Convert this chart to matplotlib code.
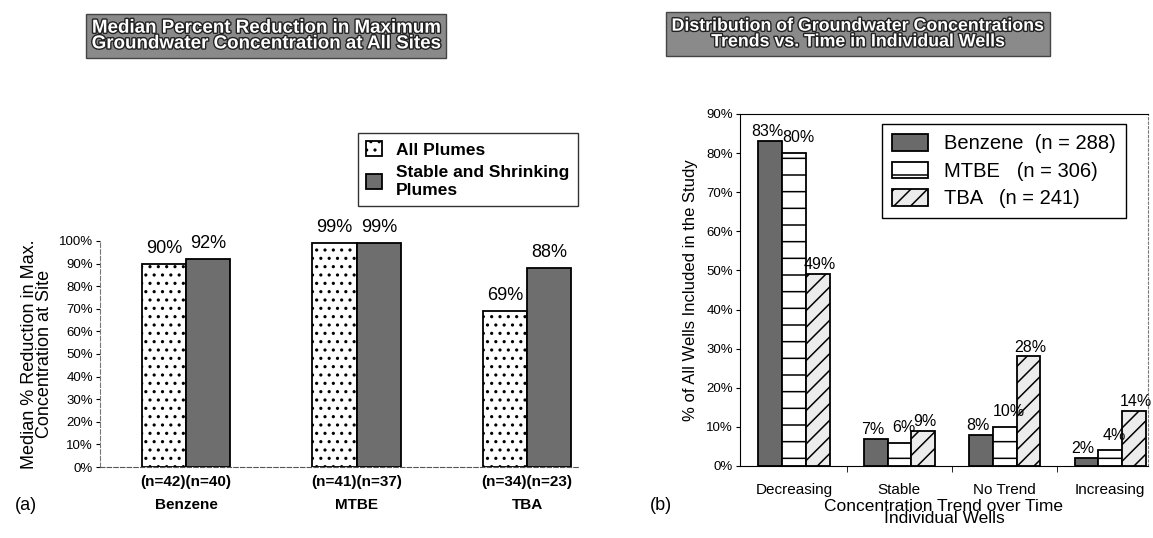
import numpy as np
import matplotlib.pyplot as plt
import matplotlib.patheffects as pe

plt.rcParams['font.family'] = ['Liberation Sans', 'DejaVu Sans']
plt.rcParams['hatch.linewidth'] = 1.1

# panel (a) data
compounds = ['Benzene', 'MTBE', 'TBA']
all_plumes = [90, 99, 69]
stable_shrink = [92, 99, 88]
n_labels = ['(n=42)(n=40)', '(n=41)(n=37)', '(n=34)(n=23)']

# panel (b) data
trends = ['Decreasing', 'Stable', 'No Trend', 'Increasing']
benzene = [83, 7, 8, 2]
mtbe = [80, 6, 10, 4]
tba = [49, 9, 28, 14]
series_b = ['Benzene  (n = 288)', 'MTBE   (n = 306)', 'TBA   (n = 241)']

W, H = 1153, 538
fig = plt.figure(figsize=(W / 100, H / 100), dpi=100)


def title_box(x, y, txt, fs):
    t = fig.text(x / W, 1 - y / H, txt, ha='center', va='center', fontsize=fs,
                 fontweight='bold', color='white', linespacing=0.9,
                 bbox=dict(boxstyle='square,pad=0.3', fc='#8a8a8a', ec='#444444', lw=1))
    t.set_path_effects([pe.withStroke(linewidth=2, foreground='#222222')])


# ---- panel (a)
ax1 = fig.add_axes([100 / W, 1 - 467 / H, 480 / W, 226 / H])
x = np.arange(len(compounds))
bw = 0.26
b1 = ax1.bar(x - bw / 2, all_plumes, bw, color='white', edgecolor='black', hatch='..',
             lw=1.3, label='All Plumes')
b2 = ax1.bar(x + bw / 2, stable_shrink, bw, color='#6e6e6e', edgecolor='black', lw=1.3,
             label='Stable and Shrinking\nPlumes')
for xi, v in zip(x, all_plumes):
    ax1.text(xi - bw / 2, v + 3, f'{v}%', ha='center', va='bottom', fontsize=13)
for xi, v in zip(x, stable_shrink):
    ax1.text(xi + bw / 2, v + 3, f'{v}%', ha='center', va='bottom', fontsize=13)
ax1.set_xlim(-0.505, 2.31)
ax1.set_ylim(0, 100)
ax1.set_yticks(range(0, 101, 10))
ax1.set_yticklabels([f'{v}%' for v in range(0, 101, 10)], fontsize=9.5)
ax1.set_xticks(x)
ax1.set_xticklabels([f'{n}\n\n{c}' for n, c in zip(n_labels, compounds)], fontsize=11,
                    fontweight='bold', linespacing=0.75)
ax1.tick_params(axis='x', length=0, pad=6)
ax1.tick_params(axis='y', length=3, width=0.8, pad=2)
for s in ['top', 'right']:
    ax1.spines[s].set_visible(False)
ax1.spines['left'].set_linestyle((0, (4, 2)))
ax1.spines['left'].set_color('#777777')
ax1.spines['bottom'].set_linestyle((0, (4, 2)))
ax1.spines['bottom'].set_color('#555555')
ax1.set_ylabel('Median % Reduction in Max.\nConcentration at Site', fontsize=13,
               linespacing=0.85, labelpad=4)
fig.text(15 / W, 1 - 505 / H, '(a)', fontsize=13, va='center')
fig.legend(handles=[b1, b2], loc='upper left', bbox_to_anchor=(349 / W, 1 - 124 / H),
           frameon=True, fancybox=False, edgecolor='black',
           handlelength=0.9, handleheight=0.9, borderpad=0.5, labelspacing=0.45,
           prop={'weight': 'bold', 'size': 12.5})
title_box(266, 36, 'Median Percent Reduction in Maximum\nGroundwater Concentration at All Sites', 13.5)

# ---- panel (b)
ax2 = fig.add_axes([740 / W, 1 - 466 / H, 408 / W, 352 / H])
xb = np.arange(len(trends))
bw2 = 0.225
r1 = ax2.bar(xb - bw2, benzene, bw2, color='#6a6a6a', edgecolor='black', lw=1.3,
             label=series_b[0])
r2 = ax2.bar(xb, mtbe, bw2, color='white', edgecolor='black', hatch='-', lw=1.3,
             label=series_b[1])
r3 = ax2.bar(xb + bw2, tba, bw2, color='#ececec', edgecolor='black', hatch='//', lw=1.3,
             label=series_b[2])
# labels nudged apart a little so neighbours don't collide
for off, vals, dx, lift in [(-bw2, benzene, -0.03, 0.5), (0, mtbe, 0.04, 2.0),
                            (bw2, tba, 0.02, 0.5)]:
    for xi, v in zip(xb, vals):
        ax2.text(xi + off + dx, v + lift, f'{v}%', ha='center', va='bottom', fontsize=11.5)
ax2.set_xlim(-0.513, 3.36)
ax2.set_ylim(0, 90)
ax2.set_yticks(range(0, 91, 10))
ax2.set_yticklabels([f'{v}%' for v in range(0, 91, 10)], fontsize=9.5)
ax2.set_xticks(xb)
ax2.set_xticklabels(trends, fontsize=11)
ax2.set_xticks(xb[:-1] + 0.5, minor=True)
ax2.tick_params(axis='x', which='major', length=0, pad=12)
ax2.tick_params(axis='x', which='minor', length=4, direction='out')
ax2.tick_params(axis='y', length=3, width=0.8, pad=2)
ax2.spines['right'].set_linestyle((0, (2, 2)))
ax2.spines['right'].set_color('#777777')
ax2.set_ylabel('% of All Wells Included in the Study', fontsize=12, labelpad=6)
ax2.set_xlabel('Concentration Trend over Time\nIndividual Wells', fontsize=12.5,
               linespacing=0.8, labelpad=1.5)
ax2.legend(handles=[r1, r2, r3], loc='upper right', bbox_to_anchor=(1136 / W, 1 - 114 / H),
           bbox_transform=fig.transFigure, fontsize=14.5, frameon=True, fancybox=False,
           edgecolor='black', handlelength=1.8, handleheight=0.9, borderpad=0.5,
           labelspacing=0.4, framealpha=1)
fig.text(650 / W, 1 - 505 / H, '(b)', fontsize=13, va='center')
title_box(858, 34, 'Distribution of Groundwater Concentrations\nTrends vs. Time in Individual Wells', 12.8)

fig.savefig('out.png', dpi=100)
